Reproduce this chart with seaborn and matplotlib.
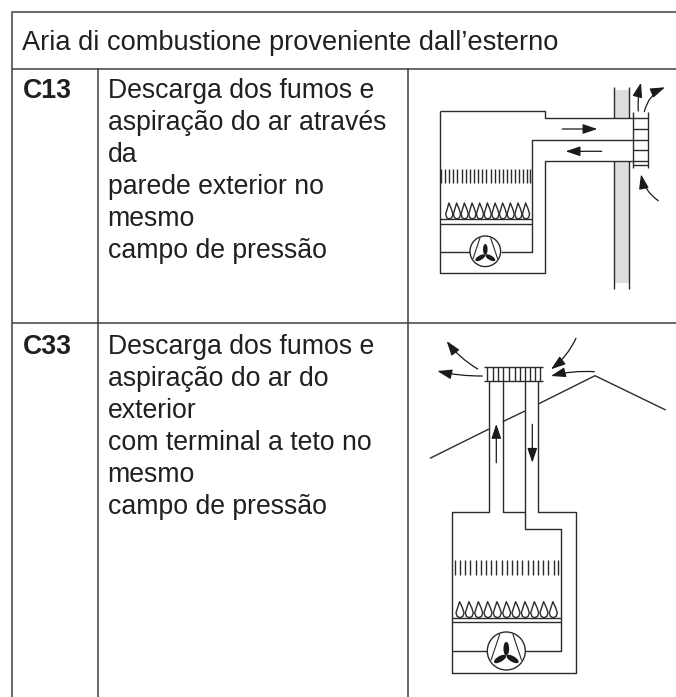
import pandas as pd
import matplotlib
matplotlib.use("Agg")
import matplotlib.pyplot as plt
import seaborn as sns
from matplotlib.patches import Circle, Ellipse, FancyArrowPatch, Rectangle

# Table content
header = "Aria di combustione proveniente dall\u2019esterno"
codes = ["C13", "C33"]
row1_lines = ["Descarga dos fumos e", "aspira\u00e7\u00e3o do ar atrav\u00e9s", "da",
              "parede exterior no", "mesmo", "campo de press\u00e3o"]
row2_lines = ["Descarga dos fumos e", "aspira\u00e7\u00e3o do ar do", "exterior",
              "com terminal a teto no", "mesmo", "campo de press\u00e3o"]
row1_baselines = [98.5, 130.5, 162.5, 194.5, 226.5, 258.5]
row2_baselines = [353.5, 385.5, 417.5, 450, 482, 514]

# Table rules, image pixels (open on the right, runs off the bottom)
outer_rules = [[(676, 12), (12, 12), (12, 697)]]
inner_rules = [
    [(12, 68.5), (676, 68.5)], [(12, 323), (676, 323)],
    [(97.5, 68), (97.5, 697)], [(408, 68), (408, 697)],
]

# Wall-terminal boiler (C13)
c13_lines = [
    [(440, 110.7), (545, 110.7), (545, 118.3), (633, 118.3)],
    [(440, 110.7), (440, 273.3), (545, 273.3), (545, 160.7), (633, 160.7)],
    [(633, 140), (532, 140), (532, 251.5), (501, 251.5)],
    [(440, 251.5), (470, 251.5)],
    [(440, 219), (532, 219)], [(440, 223.7), (532, 223.7)],
    [(613.7, 86.7), (613.7, 118.3)], [(628.7, 86.7), (628.7, 118.3)],
    [(613.7, 160.7), (613.7, 288.7)], [(628.7, 160.7), (628.7, 288.7)],
    [(633.3, 112), (633.3, 168.3)], [(648.3, 112), (648.3, 168.3)],
    [(633.3, 118), (648.3, 118)], [(633.3, 129), (648.3, 129)], [(633.3, 140), (648.3, 140)],
    [(633.3, 150), (648.3, 150)], [(633.3, 160.7), (648.3, 160.7)], [(633.3, 165), (648.3, 165)],
]
c13_walls = [(613.7, 90, 15, 28), (613.7, 160.7, 15, 122.3)]
c13_ticks = [441, 445, 449, 453, 457, 461.5, 465.5, 470, 474, 478, 482, 486, 490.5, 494.5,
             498.5, 502.5, 507, 511, 515, 519, 523, 527, 530]
c13_tick_span = (169, 183)
c13_flames = [449.3, 457, 464.7, 472.4, 480, 487.7, 495.4, 503, 510.7, 518.4, 526]
c13_flame_base, c13_flame_h, c13_flame_w = 219, 16, 3.6
c13_fan = (485.3, 251.3, 15.3)
c13_curved = [
    [(638.3, 111), (641, 82.7), -0.08],
    [(644.3, 111.7), (665, 87.3), -0.25],
    [(658.3, 200.7), (641, 174.3), -0.2],
]
c13_straight = [[(562.3, 129), (597.3, 129)], [(601.7, 151.3), (565.7, 151.3)]]

# Roof-terminal boiler (C33)
c33_lines = [
    [(430, 458.3), (489, 429)], [(502.7, 421.7), (525, 411)],
    [(538.3, 404), (595, 375.7), (665.7, 410)],
    [(489, 380.7), (489, 512.3), (451.7, 512.3), (451.7, 672.7), (575.7, 672.7), (575.7, 512.3),
     (538.3, 512.3), (538.3, 380.7)],
    [(502.7, 380.7), (502.7, 512.3), (525, 512.3)],
    [(525, 380.7), (525, 529), (561, 529), (561, 651), (525, 651)],
    [(451.7, 651), (487.3, 651)],
    [(451.7, 617.7), (561, 617.7)], [(451.7, 622.3), (561, 622.3)],
    [(484, 366.7), (543.3, 366.7)], [(484, 380.7), (543.3, 380.7)],
]
c33_grille = [486.7, 493, 498, 503, 509, 514.5, 520, 525, 530, 535, 540]
c33_grille_span = (366.7, 380.7)
c33_ticks = [455, 460, 465, 470, 475.5, 480.5, 486, 491, 496, 501.5, 506.5, 512, 517, 522, 527.5,
             532.5, 538, 543, 548, 553.5, 558.3]
c33_tick_span = (560, 575)
c33_flames = [460, 469.3, 478.7, 488, 497.3, 506.7, 516, 525.3, 534.7, 544, 553.3]
c33_flame_base, c33_flame_h, c33_flame_w = 617.7, 16, 4
c33_fan = (506.3, 651, 19)
c33_curved = [
    [(477.7, 369), (446.7, 341), -0.1],
    [(482.3, 376), (437.3, 371), -0.06],
    [(576, 338.3), (551, 369.3), -0.12],
    [(594.3, 371.7), (551, 376), 0.08],
]
c33_straight = [[(496.3, 462.7), (496.3, 424)], [(532.3, 424.3), (532.3, 462.7)]]

LINE = "#2b2b2b"
RULE = "#3f3f3f"
RULE_OUT = "#6e6e6e"
TEXT = "#231f20"

sns.set_style("white")
plt.rcParams["font.family"] = ["Liberation Sans", "DejaVu Sans"]

fig = plt.figure(figsize=(6.76, 6.97), dpi=100)
ax = fig.add_axes([0, 0, 1, 1])


def draw_segments(segs, color, lw):
    # long table with one unit per polyline, kept in drawing order
    rows = []
    for n, seg in enumerate(segs):
        for px, py in seg:
            rows.append({"seg": n, "px": px, "py": py})
    sns.lineplot(data=pd.DataFrame(rows), x="px", y="py", units="seg", estimator=None, sort=False,
                 color=color, linewidth=lw, legend=False, ax=ax, solid_capstyle="butt")


def flame(cx, base, h, w):
    return [(cx, base), (cx - w * 0.7, base - h * 0.08), (cx - w, base - h * 0.3),
            (cx - w * 0.6, base - h * 0.62), (cx - w * 0.1, base - h),
            (cx + w * 0.6, base - h * 0.62), (cx + w, base - h * 0.3),
            (cx + w * 0.7, base - h * 0.08), (cx, base)]


def draw_fan(cx, cy, r):
    ax.add_patch(Circle((cx, cy), r, fc="white", ec=LINE, lw=1.0, zorder=3))
    ax.plot([cx - r * 0.35, cx - r * 0.8], [cy - r * 0.87, cy + r * 0.47], color=LINE, lw=0.8, zorder=4)
    ax.plot([cx + r * 0.35, cx + r * 0.8], [cy - r * 0.87, cy + r * 0.47], color=LINE, lw=0.8, zorder=4)
    # three blades around a hub just below the circle centre
    for ang, dx, dy in [(90, 0, -0.12), (30, 0.33, 0.42), (-30, -0.33, 0.42)]:
        ax.add_patch(Ellipse((cx + dx * r, cy + dy * r), r * 0.72, r * 0.3, angle=ang,
                             fc="#1a1a1a", ec="none", zorder=4))


def draw_arrow(p0, p1, rad=0.0, scale=11):
    style = "-|>,head_length=0.8,head_width=0.27"
    ax.add_patch(FancyArrowPatch(p0, p1, connectionstyle=f"arc3,rad={rad}", arrowstyle=style,
                                 mutation_scale=scale, color="#1a1a1a", lw=0.9,
                                 shrinkA=0, shrinkB=0, zorder=5))


# table
draw_segments(outer_rules, RULE_OUT, 1.5)
draw_segments(inner_rules, RULE, 1.1)
ax.text(22, 50, header, fontsize=19.6, color=TEXT, va="baseline")
ax.text(23, 98.5, codes[0], fontsize=19.3, color=TEXT, weight="bold", va="baseline")
ax.text(23, 353.5, codes[1], fontsize=19.3, color=TEXT, weight="bold", va="baseline")
for line, yy in zip(row1_lines, row1_baselines):
    ax.text(107.5, yy, line, fontsize=19.2, color=TEXT, va="baseline")
for line, yy in zip(row2_lines, row2_baselines):
    ax.text(107.5, yy, line, fontsize=19.2, color=TEXT, va="baseline")

# C13 diagram
for wx, wy, ww, wh in c13_walls:
    ax.add_patch(Rectangle((wx, wy), ww, wh, fc="#dcdddf", ec="none", zorder=0))
segs = list(c13_lines)
segs += [[(x, c13_tick_span[0]), (x, c13_tick_span[1])] for x in c13_ticks]
segs += [flame(x, c13_flame_base, c13_flame_h, c13_flame_w) for x in c13_flames]
draw_segments(segs, LINE, 1.0)
draw_fan(*c13_fan)
for p0, p1, rad in c13_curved:
    draw_arrow(p0, p1, rad)
for p0, p1 in c13_straight:
    draw_arrow(p0, p1)

# C33 diagram
segs = list(c33_lines)
segs += [[(x, c33_grille_span[0]), (x, c33_grille_span[1])] for x in c33_grille]
segs += [[(x, c33_tick_span[0]), (x, c33_tick_span[1])] for x in c33_ticks]
segs += [flame(x, c33_flame_base, c33_flame_h, c33_flame_w) for x in c33_flames]
draw_segments(segs, LINE, 1.0)
draw_fan(*c33_fan)
for p0, p1, rad in c33_curved:
    draw_arrow(p0, p1, rad)
for p0, p1 in c33_straight:
    draw_arrow(p0, p1)

ax.set_xlim(0, 676)
ax.set_ylim(697, 0)
ax.set_xlabel("")
ax.set_ylabel("")
ax.axis("off")

fig.savefig("out.png", dpi=100)
